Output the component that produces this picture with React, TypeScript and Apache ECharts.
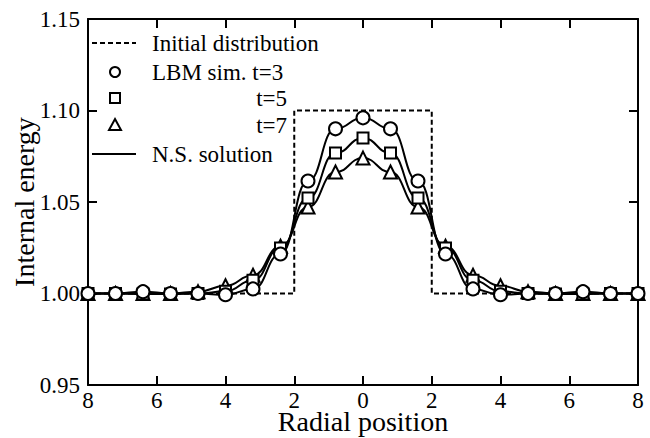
import React, { useEffect, useRef } from "react";
import * as echarts from "echarts";

const positions = [-8, -7.2, -6.4, -5.6, -4.8, -4, -3.2, -2.4, -1.6, -0.8, 0, 0.8, 1.6, 2.4, 3.2, 4, 4.8, 5.6, 6.4, 7.2, 8];
const lbmT3 = [1.0, 1.0, 1.001, 1.0, 1.0, 0.9993, 1.0025, 1.0216, 1.0615, 1.09, 1.096, 1.09, 1.0615, 1.0216, 1.0025, 0.9993, 1.0, 1.0, 1.001, 1.0, 1.0];
const lbmT5 = [1.0, 1.0, 0.9997, 0.9997, 1.0, 1.0012, 1.0072, 1.0249, 1.0522, 1.0768, 1.085, 1.0768, 1.0522, 1.0249, 1.0072, 1.0012, 1.0, 0.9997, 0.9997, 1.0, 1.0];
const lbmT7 = [1.0, 1.0, 1.0, 1.0, 1.001, 1.0042, 1.0100, 1.0258, 1.0473, 1.0664, 1.074, 1.0664, 1.0473, 1.0258, 1.0100, 1.0042, 1.001, 1.0, 1.0, 1.0, 1.0];
const initX = [-8, -2, -2, 2, 2, 8];
const initY = [1.0, 1.0, 1.1, 1.1, 1.0, 1.0];

const legendLabels = ["Initial distribution", "LBM sim. t=3", "t=5", "t=7", "N.S. solution"];

const FONT = "Times New Roman, Liberation Serif, DejaVu Serif, serif";

const pair = (xs: number[], ys: number[]) => xs.map((x, i) => [x, ys[i]]);

export default function App() {
  const ref = useRef<HTMLDivElement>(null);
  useEffect(() => {
    if (!ref.current) return;
    const chart = echarts.init(ref.current, undefined, { renderer: "svg" });
    const black = "#000";
    const lineSeries = (ys: number[], name: string) => ({
      type: "line",
      name,
      data: pair(positions, ys),
      smooth: 0.5,
      smoothMonotone: "x",
      showSymbol: false,
      symbol: "none",
      lineStyle: { color: black, width: 2 },
      z: 3,
    });
    const scatterSeries = (ys: number[], name: string, symbol: string, size: number) => ({
      type: "scatter",
      name,
      data: pair(positions, ys),
      symbol,
      symbolSize: size,
      itemStyle: { color: "#fff", borderColor: black, borderWidth: 2, opacity: 1 },
      emphasis: { disabled: true },
      z: 5,
    });
    const txt = (x: number, y: number, text: string, align = "left") => ({
      type: "text",
      x,
      y,
      style: {
        text,
        fontFamily: FONT,
        fontSize: 23,
        fill: black,
        align,
        verticalAlign: "middle",
      },
      z: 10,
    });
    const mk = { stroke: black, lineWidth: 2, fill: "#fff" };
    const tick = {
      show: true,
      inside: true,
      length: 9,
      lineStyle: { color: black, width: 2 },
    };
    const axisLine = { show: true, onZero: false, lineStyle: { color: black, width: 2 } };
    chart.setOption({
      animation: false,
      backgroundColor: "#fff",
      textStyle: { fontFamily: FONT },
      grid: { left: 88, right: 12, top: 19, bottom: 53, outerBoundsMode: "none", containLabel: false },
      xAxis: [
        {
          type: "value",
          min: -8,
          max: 8,
          interval: 2,
          position: "bottom",
          axisLine,
          axisTick: tick,
          splitLine: { show: false },
          axisLabel: {
            color: black,
            fontFamily: FONT,
            fontSize: 23,
            margin: 4,
            formatter: (v: number) => String(Math.abs(v)),
          },
          name: "Radial position",
          nameLocation: "middle",
          nameGap: 22,
          nameMoveOverlap: false,
          nameTextStyle: { color: black, fontFamily: FONT, fontSize: 28 },
        },
        {
          type: "value",
          min: -8,
          max: 8,
          interval: 2,
          position: "top",
          axisLine,
          axisTick: tick,
          splitLine: { show: false },
          axisLabel: { show: false },
        },
      ],
      yAxis: [
        {
          type: "value",
          min: 0.95,
          max: 1.15,
          interval: 0.05,
          position: "left",
          axisLine,
          axisTick: tick,
          splitLine: { show: false },
          axisLabel: {
            color: black,
            fontFamily: FONT,
            fontSize: 23,
            margin: 8,
            formatter: (v: number) => v.toFixed(2),
          },
          name: "Internal energy",
          nameLocation: "middle",
          nameGap: 50,
          nameMoveOverlap: false,
          nameTextStyle: { color: black, fontFamily: FONT, fontSize: 28 },
        },
        {
          type: "value",
          min: 0.95,
          max: 1.15,
          interval: 0.05,
          position: "right",
          axisLine,
          axisTick: tick,
          splitLine: { show: false },
          axisLabel: { show: false },
        },
      ],
      series: [
        {
          type: "line",
          name: legendLabels[0],
          data: pair(initX, initY),
          symbol: "none",
          lineStyle: { color: black, width: 2, type: [5, 3] },
          z: 2,
        },
        lineSeries(lbmT3, "NS t=3"),
        lineSeries(lbmT5, "NS t=5"),
        lineSeries(lbmT7, "NS t=7"),
        scatterSeries(lbmT7, "t=7", "triangle", 13),
        scatterSeries(lbmT5, "t=5", "rect", 11),
        scatterSeries(lbmT3, "t=3", "circle", 13),
      ],
      graphic: [
        {
          type: "line",
          shape: { x1: 92, y1: 43, x2: 136, y2: 43 },
          style: { stroke: black, lineWidth: 2, lineDash: [5, 3] },
          z: 10,
        },
        txt(152, 43, legendLabels[0]),
        { type: "circle", shape: { cx: 115, cy: 72, r: 5 }, style: mk, z: 10 },
        txt(152, 72, legendLabels[1]),
        { type: "rect", shape: { x: 110, y: 93, width: 10, height: 10 }, style: mk, z: 10 },
        txt(287, 98, legendLabels[2], "right"),
        {
          type: "polygon",
          shape: { points: [[115, 119], [121, 130], [109, 130]] },
          style: mk,
          z: 10,
        },
        txt(287, 125, legendLabels[3], "right"),
        {
          type: "line",
          shape: { x1: 92, y1: 154, x2: 136, y2: 154 },
          style: { stroke: black, lineWidth: 2 },
          z: 10,
        },
        txt(152, 154, legendLabels[4]),
      ],
    });
    return () => chart.dispose();
  }, []);
  return (
    <div
      ref={ref}
      style={{ position: "absolute", left: 0, top: 0, width: 650, height: 438 }}
    />
  );
}
